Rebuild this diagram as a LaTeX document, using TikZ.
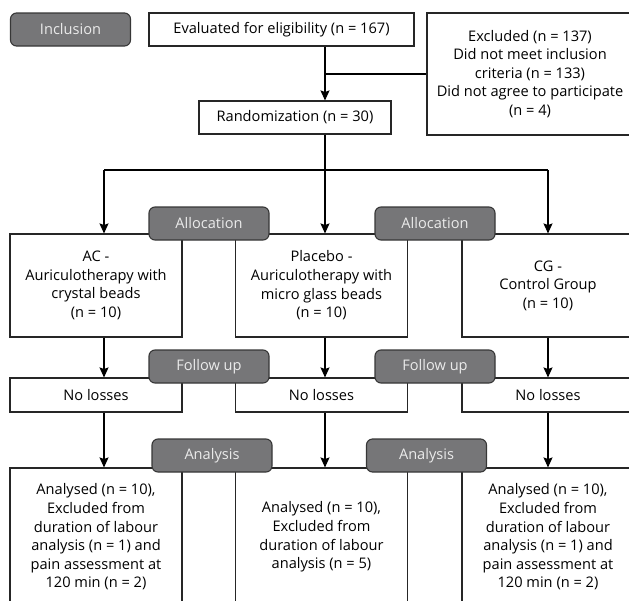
\documentclass[tikz,border=0pt]{standalone}
\usepackage{fontspec}
\setmainfont{Open Sans}
\usetikzlibrary{arrows.meta}
\definecolor{tabgray}{RGB}{118,118,120}
\definecolor{tabline}{RGB}{55,55,55}
\definecolor{tabtext}{RGB}{235,235,235}
\tikzset{
	box/.style={draw=black!85, line width=1.1pt, fill=white, align=center,
		inner sep=0pt, font=\fontsize{14.6}{18.6}\selectfont},
	tab/.style={box, draw=tabline, fill=tabgray, rounded corners=6pt,
		text=tabtext, minimum width=120pt, minimum height=33pt},
	arr/.style={line width=1.1pt, -{Stealth[length=10pt,width=9pt,inset=1.5pt]}},
	lin/.style={line width=1.1pt}
}

\begin{document}
\begin{tikzpicture}[x=1pt,y=-1pt]
\useasboundingbox (0,0) rectangle (629,600);
\clip (0,0) rectangle (629,600);

% column lines
\coordinate (ca) at (104,0);
\coordinate (cb) at (325,0);
\coordinate (cc) at (548,0);
\coordinate (split) at (0,170);

%inclusion
\node[box, minimum width=265pt, minimum height=33pt] (eval) at (281.5,29.5)
	{Evaluated for eligibility (n = 167)};
\node[box, minimum width=206pt, minimum height=122pt] (excl) at (530,74)
	{Excluded (n = 137)\\Did not meet inclusion\\criteria (n = 133)\\
	 Did not agree to participate\\(n = 4)};
\node[box, minimum width=192pt, minimum height=33pt] (rand) at (295,117.5)
	{Randomization (n = 30)};

\draw[arr] (cb |- eval.south) -- (cb |- rand.north);
\draw[lin] (cb |- excl.west) -- (excl.west);
\draw[lin] (cb |- rand.south) -- (cb |- split);
\draw[lin] (ca |- split) -- (cc |- split);

% groups
\begin{scope}[every node/.append style={box, minimum width=172pt}]
	\node[minimum height=103pt] (ac) at (96,285.5)
		{AC -\\Auriculotherapy with\\crystal beads\\(n = 10)};
	\node[minimum height=103pt] (pl) at (321.5,285.5)
		{Placebo -\\Auriculotherapy with\\micro glass beads\\(n = 10)};
	\node[minimum height=103pt] (cg) at (548,285.5)
		{CG -\\Control Group\\(n = 10)};

	\node[minimum height=34pt] (lossa) at (96,395) {No losses};
	\node[minimum height=34pt] (lossb) at (321.5,395) {No losses};
	\node[minimum height=34pt] (lossc) at (548,395) {No losses};

	\node[minimum height=138pt] (ana) at (96,537)
		{Analysed (n = 10),\\Excluded from\\duration of labour\\analysis (n = 1) and\\
		 pain assessment at\\120 min (n = 2)};
	\node[minimum height=138pt] (anb) at (321.5,537)
		{Analysed (n = 10),\\Excluded from\\duration of labour\\analysis (n = 5)};
	\node[minimum height=138pt] (anc) at (548,537)
		{Analysed (n = 10),\\Excluded from\\duration of labour\\analysis (n = 1) and\\
		 pain assessment at\\120 min (n = 2)};
\end{scope}

\foreach \c/\g/\l/\a in {ca/ac/lossa/ana, cb/pl/lossb/anb, cc/cg/lossc/anc}
{
	\draw[arr] (\c |- split) -- (\c |- \g.north);
	\draw[arr] (\c |- \g.south) -- (\c |- \l.north);
	\draw[arr] (\c |- \l.south) -- (\c |- \a.north);
}

% stage tabs
\node[tab] (incl) at (70.5,29.5) {Inclusion};
\node[tab] (alloca) at (209,223.5) {Allocation};
\node[tab] (allocb) at (435,223.5) {Allocation};
\node[tab] (folla) at (209,366.5) {Follow up};
\node[tab] (follb) at (435,366.5) {Follow up};
\node[tab] (anla) at (212,455.5) {Analysis};
\node[tab] (anlb) at (426.5,455.5) {Analysis};

\end{tikzpicture}
\end{document}
